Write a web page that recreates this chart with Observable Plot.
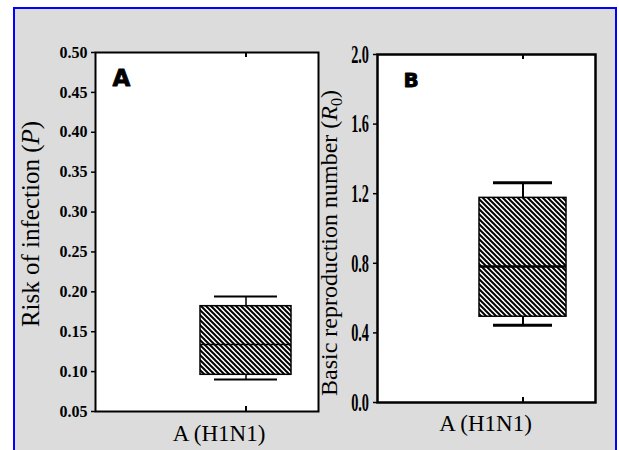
<!DOCTYPE html>
<html><head><meta charset="utf-8">
<script src="https://cdn.jsdelivr.net/npm/d3@7"></script>
<script src="https://cdn.jsdelivr.net/npm/@observablehq/plot@0.6"></script>
<style>
body{margin:0;background:#fff;}
#wrap{position:relative;width:619px;height:450px;overflow:hidden;}
#bg{position:absolute;left:13px;top:7px;width:604px;height:470px;box-sizing:border-box;border:2px solid #0000ff;background:#dcdcdc;}
#a{position:absolute;left:0;top:0;}
#b{position:absolute;left:300px;top:0;}
</style></head><body>
<div id="wrap"><div id="bg"></div><div id="a"></div><div id="b"></div></div>
<script>
// ---- data ----
const categories = ["A (H1N1)"];
const statNames = ["min", "q1", "median", "q3", "max"];
const riskValues = [0.090, 0.096, 0.134, 0.182, 0.194];
const r0Values = [0.444, 0.493, 0.782, 1.176, 1.263];
const riskTicks = [0.05, 0.10, 0.15, 0.20, 0.25, 0.30, 0.35, 0.40, 0.45, 0.50];
const r0Ticks = [0.0, 0.4, 0.8, 1.2, 1.6, 2.0];
const panelLetters = ["A", "B"];
const riskTitle = [["Risk of infection (", "n"], ["P", "i"], [")", "n"]];
const r0Title = [["Basic reproduction number (", "n"], ["R", "i"], ["0", "s"], [")", "n"]];

const SERIF = "'Liberation Serif', 'Times New Roman', Times, serif";
const SANS = "'DejaVu Sans', 'Liberation Sans', sans-serif";

function makeRow(values) {
  const row = {cat: categories[0]};
  statNames.forEach((k, i) => row[k] = values[i]);
  return [row];
}

function boxPanel(cfg) {
  const data = makeRow(cfg.values);
  const frameH = cfg.height - cfg.mt - cfg.mb;
  const fillId = cfg.id;
  const plot = Plot.plot({
    width: cfg.width, height: cfg.height,
    marginLeft: cfg.ml, marginRight: cfg.mr, marginTop: cfg.mt, marginBottom: cfg.mb,
    style: {background: "transparent", fontFamily: SERIF, color: "black", overflow: "visible"},
    x: {type: "band", domain: categories, paddingInner: 0, paddingOuter: cfg.po, align: cfg.align, axis: null},
    y: {domain: [cfg.ticks[0], cfg.ticks[cfg.ticks.length - 1]], axis: null},
    marks: [
      Plot.frame({fill: "white"}),
      Plot.axisY({ticks: cfg.ticks, tickFormat: cfg.fmt, tickSize: 4, tickPadding: cfg.tickPad,
        fontSize: cfg.tickFont, fontWeight: "bold", fontFamily: SERIF, label: null, stroke: "black", strokeWidth: 1.5}),
      Plot.ruleX(data, {x: "cat", y1: "q3", y2: "max", stroke: "black", strokeWidth: cfg.stemW}),
      Plot.ruleX(data, {x: "cat", y1: "min", y2: "q1", stroke: "black", strokeWidth: cfg.stemW}),
      Plot.tickY(data, {x: "cat", y: "max", insetLeft: cfg.capInset, insetRight: cfg.capInset, stroke: "black", strokeWidth: cfg.capW}),
      Plot.tickY(data, {x: "cat", y: "min", insetLeft: cfg.capInset, insetRight: cfg.capInset, stroke: "black", strokeWidth: cfg.capW}),
      Plot.barY(data, {x: "cat", y1: "q1", y2: "q3", fill: `url(#${fillId})`, stroke: "black", strokeWidth: 1.5}),
      Plot.tickY(data, {x: "cat", y: "median", stroke: "black", strokeWidth: cfg.medW}),
      Plot.tickX(data, {x: "cat", insetBottom: frameH - 5, stroke: "black", strokeWidth: 2}),
      Plot.tickX(data, {x: "cat", insetTop: frameH - 5, stroke: "black", strokeWidth: 2}),
      Plot.frame({stroke: "black", strokeWidth: cfg.frameW}),
      Plot.text([cfg.letter], {text: d => d, frameAnchor: "top-left", textAnchor: "start", lineAnchor: "bottom",
        dx: cfg.letterDx, dy: cfg.letterDy, fontFamily: SANS, fontWeight: "bold", fontSize: cfg.letterSize,
        fill: "black", stroke: "black", strokeWidth: 0.8, paintOrder: "normal"}),
      Plot.text(categories, {text: d => d, frameAnchor: "bottom", textAnchor: "middle", lineAnchor: "bottom",
        dx: cfg.labDx, dy: cfg.labDy, fontFamily: SERIF, fontSize: 23, fill: "black"})
    ]
  });
  document.getElementById(cfg.host).appendChild(plot);
  const svg = d3.select(plot);
  const defs = svg.insert("defs", ":first-child");
  const pat = defs.append("pattern").attr("id", fillId).attr("patternUnits", "userSpaceOnUse").attr("width", 5).attr("height", 5);
  pat.append("rect").attr("width", 5).attr("height", 5).attr("fill", "white");
  pat.append("path").attr("d", "M-1,-1L6,6M-1,4L1,6M4,-1L6,1").attr("stroke", "black").attr("stroke-width", 2);
  // y title
  const t = svg.append("text").attr("transform", `translate(${cfg.titleX},${cfg.titleY}) rotate(-90)`)
    .attr("text-anchor", "middle").style("font-family", SERIF).attr("font-size", cfg.titleSize).attr("fill", "black");
  cfg.title.forEach(([s, kind]) => {
    const ts = t.append("tspan").text(s);
    if (kind === "i") ts.attr("font-style", "italic");
    if (kind === "s") ts.attr("font-size", 16).attr("dy", 5);
    if (kind === "n" && s === ")" && cfg.title.some(p => p[1] === "s")) ts.attr("dy", -5);
  });
  // condensed tick labels
  if (cfg.condense) {
    svg.selectAll('[aria-label="y-axis tick label"] text').each(function() {
      const g = document.createElementNS("http://www.w3.org/2000/svg", "g");
      this.parentNode.insertBefore(g, this);
      g.appendChild(this);
      const bb = g.getBBox();
      const r = bb.x + bb.width;
      g.setAttribute("transform", `translate(${r},0) scale(${cfg.condense},1) translate(${-r},0)`);
    });
  }
  return plot;
}

boxPanel({
  host: "a", id: "hatchA", values: riskValues, ticks: riskTicks, fmt: d3.format(".2f"),
  width: 330, height: 450, ml: 95, mr: 12, mt: 52, mb: 39,
  po: 0.712, align: 0.794, tickPad: 4, tickFont: 16,
  stemW: 1.5, capW: 2, capInset: 14, medW: 1.5, frameW: 2,
  letter: panelLetters[0], letterDx: 17, letterDy: 33, letterSize: 23,
  labDx: 12, labDy: 29, title: riskTitle, titleX: 39, titleY: 224, titleSize: 25
});
boxPanel({
  host: "b", id: "hatchB", values: r0Values, ticks: r0Ticks, fmt: d3.format(".1f"),
  width: 319, height: 450, ml: 77, mr: 24, mt: 54, mb: 48,
  po: 0.739, align: 0.777, tickPad: 4.5, tickFont: 26, condense: 0.55,
  stemW: 2, capW: 3, capInset: 14, medW: 2.5, frameW: 2.5,
  letter: panelLetters[1], letterDx: 26, letterDy: 32, letterSize: 20,
  labDx: -1, labDy: 28, title: r0Title, titleX: 37, titleY: 243, titleSize: 24
});
</script>
</body></html>
